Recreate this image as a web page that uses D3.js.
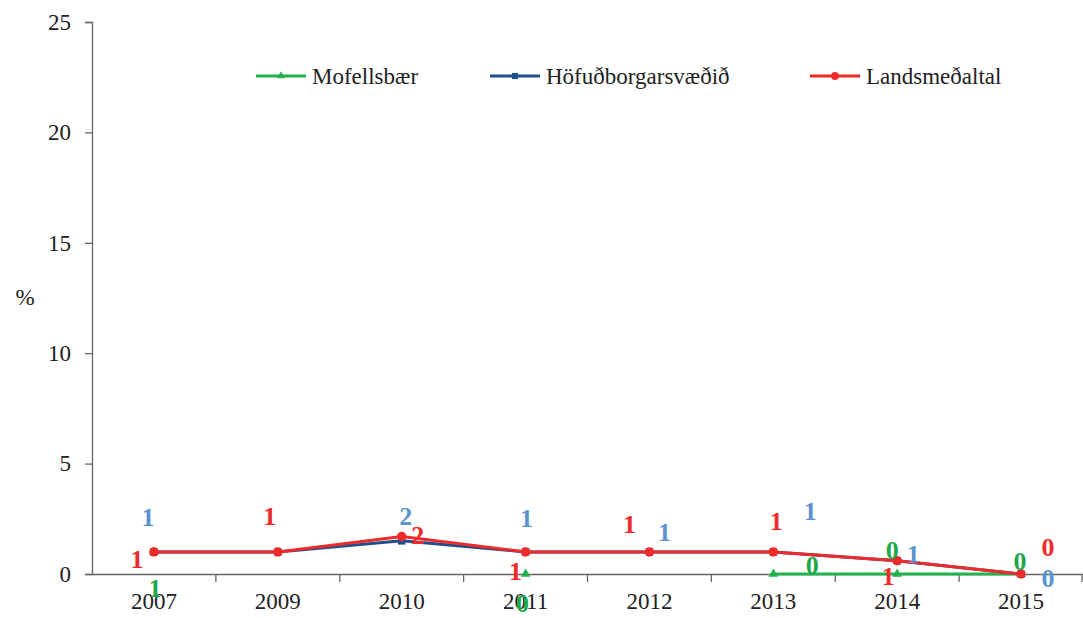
<!DOCTYPE html>
<html><head><meta charset="utf-8">
<script src="https://cdn.jsdelivr.net/npm/d3@7"></script>
<style>body{margin:0;background:#fff}svg{display:block}
svg text{font-family:"Liberation Serif","Times New Roman",Times,"DejaVu Serif",serif !important;}</style>
</head><body>
<script>
const years = ["2007","2009","2010","2011","2012","2013","2014","2015"];
const mofellsbaer = [1, null, null, 0, null, 0, 0, 0];
const hofudborg = [1, 1, 1.5, 1, 1, 1, 0.6, 0];
const lands = [1, 1, 1.7, 1, 1, 1, 0.6, 0];
const mofLabels = ["1", null, null, "0", null, "0", "0", "0"];
const hofLabels = ["1", null, "2", "1", "1", "1", "1", "0"];
const landLabels = ["1", "1", "2", "1", "1", "1", "1", "0"];
const yTicks = [0, 5, 10, 15, 20, 25];
const seriesNames = ["Mofellsbær", "Höfuðborgarsvæðið", "Landsmeðaltal"];
// label offsets (px) relative to each point: styling
const mofOff = [[1,37],null,null,[-3,29],null,[39,-9],[-5,-24],[-1,-13]];
const hofOff = [[-6,-34],null,[4,-24],[1,-33],[15,-19],[37,-40],[16,-6],[27,4]];
const landOff = [[-17,8],[-8,-35],[16,-1],[-10,20],[-20,-27],[3,-30],[-9,16],[27,-27]];

const W = 1083, H = 618;
const svg = d3.select("body").append("svg").attr("width", W).attr("height", H);
const x = d3.scaleBand().domain(years).range([92, 1083]);
const y = d3.scaleLinear().domain([0, 25]).range([574, 22]);
const cx = d => x(d) + x.bandwidth() / 2;
const axisColor = "#666";

// y axis
const ya = svg.append("g").attr("transform", "translate(92,0)")
  .call(d3.axisLeft(y).tickValues(yTicks).tickSize(7).tickPadding(14).tickFormat(d3.format("d")));
ya.select(".domain").attr("stroke", axisColor).attr("stroke-width", 1.3);
ya.selectAll(".tick line").attr("stroke", axisColor).attr("stroke-width", 1.3);
ya.selectAll("text").attr("font-size", 23).attr("fill", "#222");

// x axis
const xa = svg.append("g").attr("transform", "translate(0,574)")
  .call(d3.axisBottom(x).tickSize(0).tickPadding(19));
xa.select(".domain").attr("stroke", axisColor).attr("stroke-width", 1.3);
xa.selectAll("text").attr("font-size", 23).attr("fill", "#222");
// boundary ticks
const bounds = years.slice(1).map(d => x(d)).concat([x.range()[1] - 1]);
svg.append("g").selectAll("line").data(bounds).join("line")
  .attr("x1", d => d).attr("x2", d => d).attr("y1", 574).attr("y2", 582)
  .attr("stroke", axisColor).attr("stroke-width", 1.3);

svg.append("text").attr("x", 25).attr("y", 305).attr("text-anchor", "middle")
  .attr("font-size", 23).attr("fill", "#222").text("%");

const colors = {g: "#22b14c", b: "#1f4e8c", r: "#ee2a2a"};
const labelColors = {g: "#1ea84a", b: "#5b93d0", r: "#ee2a2a"};

const series = [
  {vals: mofellsbaer, c: "g", shape: d3.symbolTriangle, size: 40, labels: mofLabels, off: mofOff},
  {vals: hofudborg, c: "b", shape: d3.symbolSquare, size: 55, labels: hofLabels, off: hofOff},
  {vals: lands, c: "r", shape: d3.symbolCircle, size: 70, labels: landLabels, off: landOff}
];

const line = d3.line().defined(d => d.v != null).x(d => cx(d.k)).y(d => y(d.v));
series.forEach(s => {
  const pts = years.map((k, i) => ({k, v: s.vals[i]}));
  svg.append("path").datum(pts).attr("d", line).attr("fill", "none")
    .attr("stroke", colors[s.c]).attr("stroke-width", 3);
  svg.append("g").selectAll("path").data(pts.filter(d => d.v != null)).join("path")
    .attr("d", d3.symbol().type(s.shape).size(s.size))
    .attr("transform", d => `translate(${cx(d.k)},${y(d.v)})`)
    .attr("fill", colors[s.c]);
});
// labels
series.forEach(s => {
  years.forEach((k, i) => {
    if (s.labels[i] == null) return;
    const v = s.vals[i] == null ? 0 : s.vals[i];
    svg.append("text").attr("x", cx(k) + s.off[i][0]).attr("y", y(v) + s.off[i][1])
      .attr("text-anchor", "middle").attr("dominant-baseline", "central")
      .attr("font-size", 26).attr("font-weight", "bold").attr("fill", labelColors[s.c])
      .text(s.labels[i]);
  });
});

// legend
const legX = [256, 490, 810];
const legend = svg.append("g");
series.forEach((s, i) => {
  const g = legend.append("g").attr("transform", `translate(${legX[i]},76)`);
  g.append("line").attr("x1", 0).attr("x2", 50).attr("stroke", colors[s.c]).attr("stroke-width", 3);
  g.append("path").attr("d", d3.symbol().type(s.shape).size(s.size * 0.7)).attr("transform", "translate(25,0)").attr("fill", colors[s.c]);
  g.append("text").attr("x", 56).attr("y", 0).attr("dominant-baseline", "central")
    .attr("font-size", 23).attr("fill", "#222").text(seriesNames[i]);
});
</script>
</body></html>
